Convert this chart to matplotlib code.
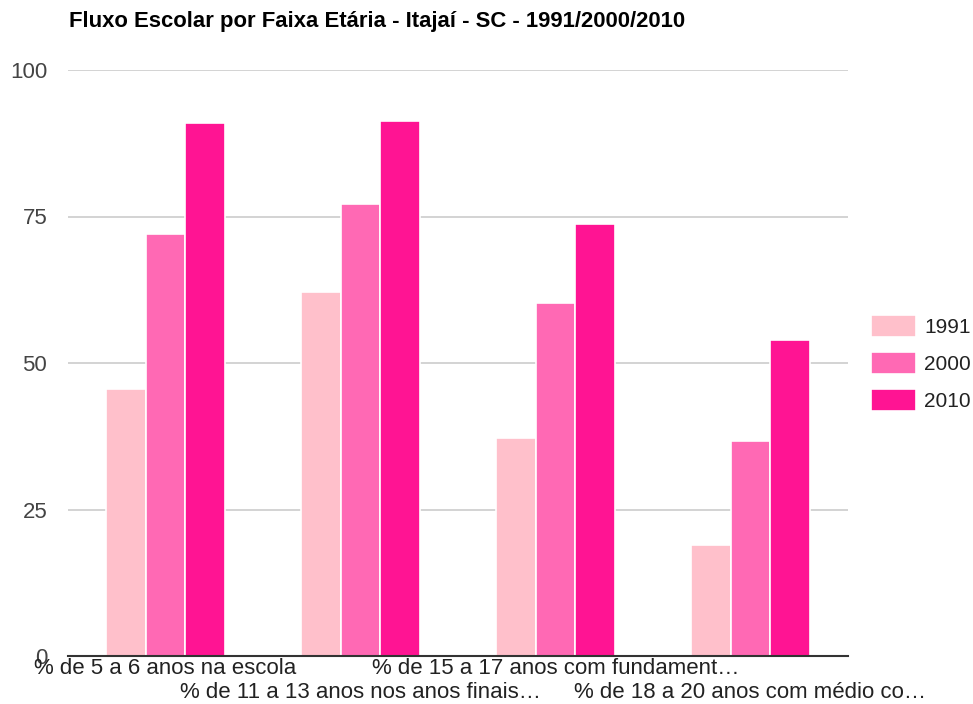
import matplotlib
matplotlib.use("Agg")
import matplotlib.pyplot as plt
import numpy as np

plt.rcParams['font.family'] = ['Liberation Sans', 'DejaVu Sans']

categories = ["% de 5 a 6 anos na escola",
              "% de 11 a 13 anos nos anos finais…",
              "% de 15 a 17 anos com fundament…",
              "% de 18 a 20 anos com médio co…"]
series_names = ["1991", "2000", "2010"]
v1991 = [45.6, 62.1, 37.2, 18.9]
v2000 = [72.0, 77.1, 60.2, 36.7]
v2010 = [91.0, 91.3, 73.7, 53.9]
colors = ["#FFC0CB", "#FF69B4", "#FF1493"]
yticks = [0, 25, 50, 75, 100]

fig = plt.figure(figsize=(9.73, 7.04), dpi=100)
ax = fig.add_axes([68/973, 1-656/704, 780/973, 586/704])

x = np.arange(len(categories))
w = 0.205
for i, (vals, name, c) in enumerate(zip([v1991, v2000, v2010], series_names, colors)):
    ax.bar(x + (i-1)*w, vals, width=w, color=c, edgecolor='white', linewidth=1.2,
           label=name, zorder=3)

ax.set_xlim(-0.5, len(categories)-0.5)
ax.set_ylim(0, 100)
ax.set_yticks(yticks)
ax.set_yticklabels([str(t) for t in yticks])
ax.tick_params(axis='y', length=0, pad=15, labelsize=16, labelcolor='#444444')
ax.grid(axis='y', color='#cccccc', linewidth=1.2, zorder=0)
for s in ['top', 'right', 'left']:
    ax.spines[s].set_visible(False)
ax.spines['bottom'].set_color('#333333')
ax.spines['bottom'].set_linewidth(1.5)
ax.spines['bottom'].set_zorder(4)

ax.set_xticks(x)
ax.set_xticklabels([])
ax.tick_params(axis='x', length=0)
for i, cat in enumerate(categories):
    yoff = -12 if i % 2 == 0 else -37
    ax.annotate(cat, xy=(x[i], 0), xycoords=('data', 'data'),
                xytext=(0, yoff), textcoords='offset pixels',
                ha='center', va='center', fontsize=16, color='#222222')

fig.text(69/973, 1-22/704, "Fluxo Escolar por Faixa Etária - Itajaí - SC - 1991/2000/2010",
         fontsize=15.9, fontweight='bold', color='#000000', ha='left', va='center')

leg = ax.legend(loc='center left', bbox_to_anchor=(1.0295, 0.5), frameon=False,
                fontsize=15, handlelength=2.16, handleheight=1.25, labelspacing=0.72,
                handletextpad=0.4, borderpad=0, borderaxespad=0, labelcolor='#222222')

fig.savefig("out.png", dpi=100)
